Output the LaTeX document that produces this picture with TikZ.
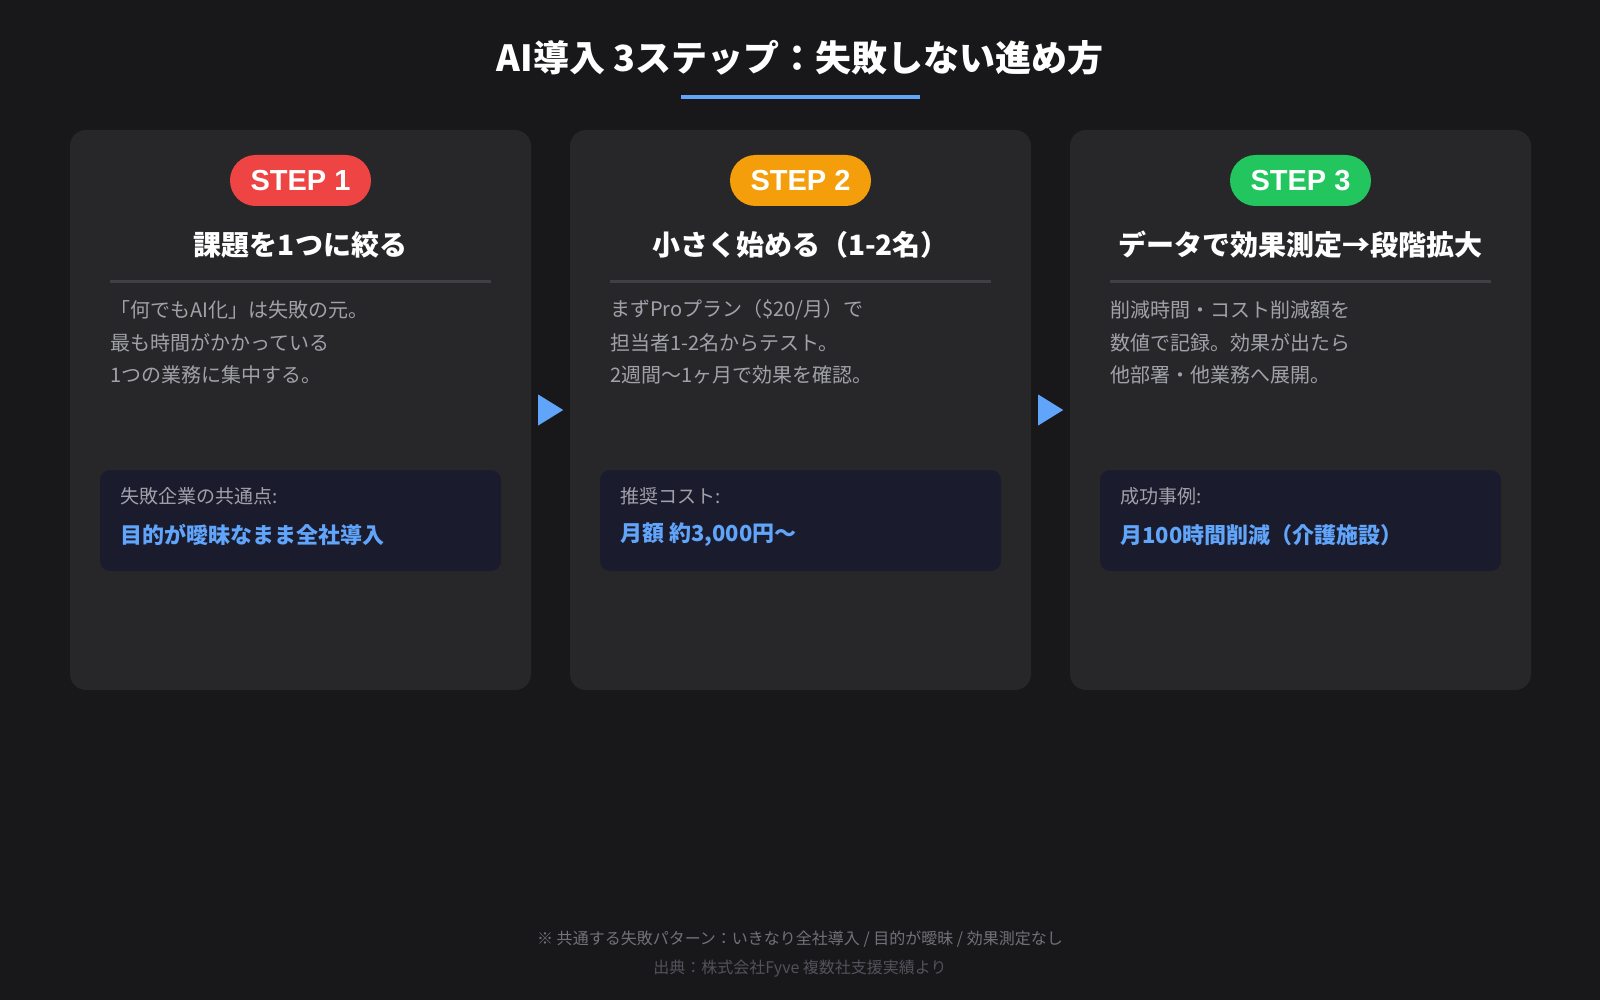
\documentclass[tikz,border=0pt]{standalone}
\usepackage{fontspec}
\setmainfont{Noto Sans CJK JP}
\newfontfamily\badgefont{Liberation Sans}
\usepackage{tikz}
\usetikzlibrary{calc}

\definecolor{bgdark}{HTML}{18181B}
\definecolor{cardgray}{HTML}{27272A}
\definecolor{boxnavy}{HTML}{1B1B2E}
\definecolor{accentblue}{HTML}{60A5FA}
\definecolor{bodygray}{HTML}{A1A1AA}
\definecolor{rulegray}{HTML}{3F3F46}
\definecolor{notegray}{HTML}{71717A}
\definecolor{srcgray}{HTML}{52525B}
\definecolor{stepred}{HTML}{EF4444}
\definecolor{steporange}{HTML}{F59E0B}
\definecolor{stepgreen}{HTML}{22C55E}

\begin{document}
\begin{tikzpicture}[x=1pt, y=-1pt,
    card/.style={fill=cardgray, rounded corners=16pt, minimum width=461pt, minimum height=560pt, inner sep=0pt},
    badge/.style={rounded corners=25.5pt, minimum width=141pt, minimum height=51pt, inner sep=0pt, text=white, font=\badgefont\fontsize{29}{32}\selectfont\bfseries},
    steptitle/.style={text=white, inner sep=0pt, font=\fontsize{28}{32}\selectfont\bfseries},
    bodyline/.style={text=bodygray, inner sep=0pt, anchor=west, font=\fontsize{20}{24}\selectfont},
    tipbox/.style={fill=boxnavy, rounded corners=10pt, minimum width=401pt, minimum height=101pt, inner sep=0pt},
    tiplabel/.style={text=bodygray, inner sep=0pt, anchor=west, font=\fontsize{19}{23}\selectfont},
    tipvalue/.style={text=accentblue, inner sep=0pt, anchor=west, font=\fontsize{22}{26}\selectfont\bfseries},
    seprule/.style={draw=rulegray, line width=2.5pt},
    notetext/.style={inner sep=0pt, font=\fontsize{16}{20}\selectfont}]

    % background and title
    \fill[bgdark] (0,0) rectangle (1600,1000);
    \node[text=white, inner sep=0pt, font=\fontsize{36}{40}\selectfont\bfseries] (title) at (800,58) {AI導入 3ステップ：失敗しない進め方};
    \fill[accentblue] (681,95) rectangle (920,99.5);

    % step 1
    \node[card] (c1) at (300.5,410) {};
    \node[badge, fill=stepred] (s1) at (300.5,180.5) {STEP 1};
    \node[steptitle] (h1) at (300.5,244.5) {課題を1つに絞る};
    \draw[seprule] (110,281.5) -- (491,281.5);
    \node[bodyline] (b1a) at (110,310) {「何でもAI化」は失敗の元。};
    \node[bodyline] (b1b) at (110,342.5) {最も時間がかかっている};
    \node[bodyline] (b1c) at (110,374.5) {1つの業務に集中する。};
    \node[tipbox] (k1) at (300.5,520.5) {};
    \node[tiplabel] (l1) at (120,496) {失敗企業の共通点:};
    \node[tipvalue] (v1) at (120,535) {目的が曖昧なまま全社導入};

    % step 2
    \node[card] (c2) at (800.5,410) {};
    \node[badge, fill=steporange] (s2) at (800.5,180.5) {STEP 2};
    \node[steptitle] (h2) at (800.5,244.5) {小さく始める（1-2名）};
    \draw[seprule] (610,281.5) -- (991,281.5);
    \node[bodyline] (b2a) at (610,310) {まずProプラン（\$20/月）で};
    \node[bodyline] (b2b) at (610,342.5) {担当者1-2名からテスト。};
    \node[bodyline] (b2c) at (610,374.5) {2週間〜1ヶ月で効果を確認。};
    \node[tipbox] (k2) at (800.5,520.5) {};
    \node[tiplabel] (l2) at (620,496) {推奨コスト:};
    \node[tipvalue] (v2) at (620,535) {月額 約3,000円〜};

    % step 3
    \node[card] (c3) at (1300.5,410) {};
    \node[badge, fill=stepgreen] (s3) at (1300.5,180.5) {STEP 3};
    \node[steptitle] (h3) at (1300.5,244.5) {データで効果測定→段階拡大};
    \draw[seprule] (1110,281.5) -- (1491,281.5);
    \node[bodyline] (b3a) at (1110,310) {削減時間・コスト削減額を};
    \node[bodyline] (b3b) at (1110,342.5) {数値で記録。効果が出たら};
    \node[bodyline] (b3c) at (1110,374.5) {他部署・他業務へ展開。};
    \node[tipbox] (k3) at (1300.5,520.5) {};
    \node[tiplabel] (l3) at (1120,496) {成功事例:};
    \node[tipvalue] (v3) at (1120,535) {月100時間削減（介護施設）};

    % arrows between cards
    \fill[accentblue] ($(c1.east)+(7,-15.5)$) -- ($(c1.east)+(7,15.5)$) -- ($(c1.east)+(32,0)$) -- cycle;
    \fill[accentblue] ($(c2.east)+(7,-15.5)$) -- ($(c2.east)+(7,15.5)$) -- ($(c2.east)+(32,0)$) -- cycle;

    % footer
    \node[notetext, text=notegray] (n1) at (800,939) {※ 共通する失敗パターン：いきなり全社導入 / 目的が曖昧 / 効果測定なし};
    \node[notetext, text=srcgray] (n2) at (800,969) {出典：株式会社Fyve 複数社支援実績より};
\end{tikzpicture}
\end{document}
